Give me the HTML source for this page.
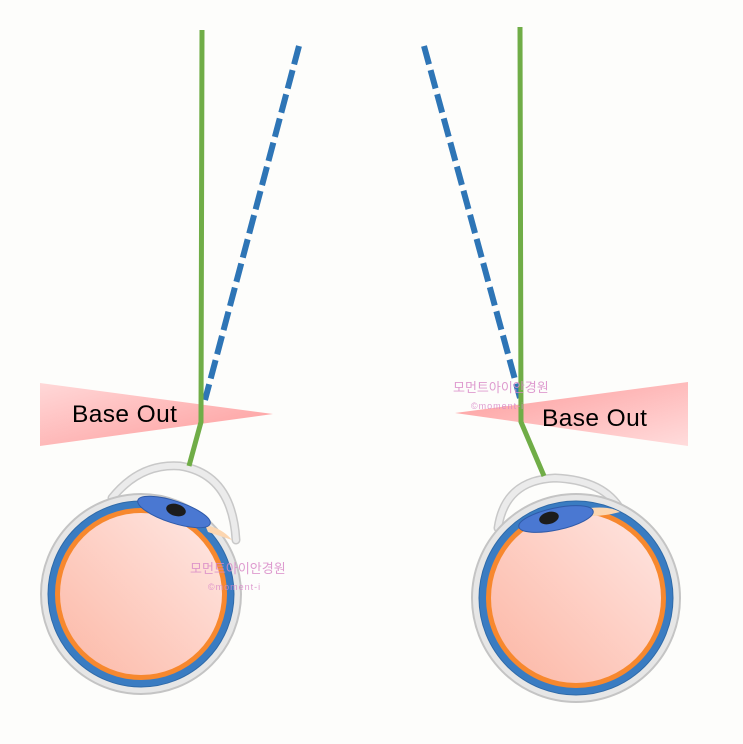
<!DOCTYPE html>
<html><head><meta charset="utf-8"><style>
html,body{margin:0;padding:0;background:#fdfdfb;}
svg{display:block;}
</style></head><body>
<svg width="743" height="744" viewBox="0 0 743 744" xmlns="http://www.w3.org/2000/svg">
<defs>
<linearGradient id="pl" x1="0" y1="0" x2="1" y2="1">
<stop offset="0" stop-color="#ffd8d8"/><stop offset="1" stop-color="#fe9a9a"/></linearGradient>
<linearGradient id="pr" x1="1" y1="1" x2="0" y2="0">
<stop offset="0" stop-color="#ffdcdc"/><stop offset="1" stop-color="#fe9a9a"/></linearGradient>
<linearGradient id="eyeL" x1="0" y1="1" x2="1" y2="0">
<stop offset="0" stop-color="#fcb8a6"/><stop offset="1" stop-color="#ffe8e4"/></linearGradient>
<linearGradient id="eyeR" x1="0" y1="1" x2="1" y2="0">
<stop offset="0" stop-color="#fcb6a4"/><stop offset="1" stop-color="#ffe6e2"/></linearGradient>
</defs>
<rect width="743" height="744" fill="#fdfdfb"/>

<!-- left prism -->
<polygon points="40,383 273,414 40,446" fill="url(#pl)"/>
<text x="72" y="422" font-family="Liberation Sans, sans-serif" font-size="24.5" letter-spacing="0.4" fill="#000">Base Out</text>
<!-- right prism -->
<polygon points="455,413 688,382 688,446" fill="url(#pr)"/>
<text x="542" y="426" font-family="Liberation Sans, sans-serif" font-size="24.5" letter-spacing="0.4" fill="#000">Base Out</text>

<!-- left eye -->
<path d="M112,498 Q140,463 180,466 Q232,474 236,540" fill="none" stroke="#c8c8c8" stroke-width="9" stroke-linecap="round"/>
<path d="M112,498 Q140,463 180,466 Q232,474 236,540" fill="none" stroke="#ebebeb" stroke-width="6" stroke-linecap="round"/>
<circle cx="141" cy="594" r="100" fill="#e6e6e6" stroke="#c4c4c4" stroke-width="2"/>
<circle cx="141" cy="594" r="93" fill="#3a7cc2" stroke="#2f6aa8" stroke-width="1"/>
<circle cx="141" cy="594" r="86" fill="#f7882e"/>
<circle cx="141" cy="594" r="81" fill="url(#eyeL)"/>
<path d="M205,525 Q222,528 232,540 Q220,536 208,532 Z" fill="#fcd6b0"/>
<ellipse cx="174" cy="512" rx="38" ry="11" transform="rotate(18 174 512)" fill="#4a78d2" stroke="#2f5aa8" stroke-width="1"/>
<ellipse cx="176" cy="510" rx="10" ry="6" transform="rotate(15 176 510)" fill="#1c1c1c"/>

<!-- right eye -->
<path d="M498,528 Q505,480 555,478 Q605,480 622,512" fill="none" stroke="#c8c8c8" stroke-width="9" stroke-linecap="round"/>
<path d="M498,528 Q505,480 555,478 Q605,480 622,512" fill="none" stroke="#ebebeb" stroke-width="6" stroke-linecap="round"/>
<circle cx="576" cy="598" r="104" fill="#e6e6e6" stroke="#c4c4c4" stroke-width="2"/>
<circle cx="576" cy="598" r="97" fill="#3a7cc2" stroke="#2f6aa8" stroke-width="1"/>
<circle cx="576" cy="598" r="90" fill="#f7882e"/>
<circle cx="576" cy="598" r="85" fill="url(#eyeR)"/>
<path d="M590,508 Q610,506 620,512 Q605,516 592,516 Z" fill="#fcd6b0"/>
<ellipse cx="556" cy="519" rx="38" ry="11" transform="rotate(-12 556 519)" fill="#4a78d2" stroke="#2f5aa8" stroke-width="1"/>
<ellipse cx="549" cy="518" rx="10" ry="6" transform="rotate(-15 549 518)" fill="#1c1c1c"/>

<!-- rays -->
<line x1="299" y1="46" x2="205" y2="400" stroke="#2e75b6" stroke-width="6" stroke-dasharray="19 6"/>
<polyline points="202,30 201,422 189,466" fill="none" stroke="#70ad47" stroke-width="5"/>
<line x1="424" y1="46" x2="520" y2="398" stroke="#2e75b6" stroke-width="6" stroke-dasharray="19 6"/>
<polyline points="520,27 521,422 544,476" fill="none" stroke="#70ad47" stroke-width="5"/>

<!-- watermarks -->
<g font-family="Liberation Sans, 'Noto Sans CJK KR', sans-serif" fill="#d98ac8" opacity="0.85">
<text x="190" y="573" font-size="13">모먼트아이안경원</text>
<text x="208" y="590" font-size="9" letter-spacing="1">©moment-i</text>
<text x="453" y="392" font-size="13">모먼트아이안경원</text>
<text x="471" y="409" font-size="9" letter-spacing="1">©moment-i</text>
</g>
</svg>
</body></html>
